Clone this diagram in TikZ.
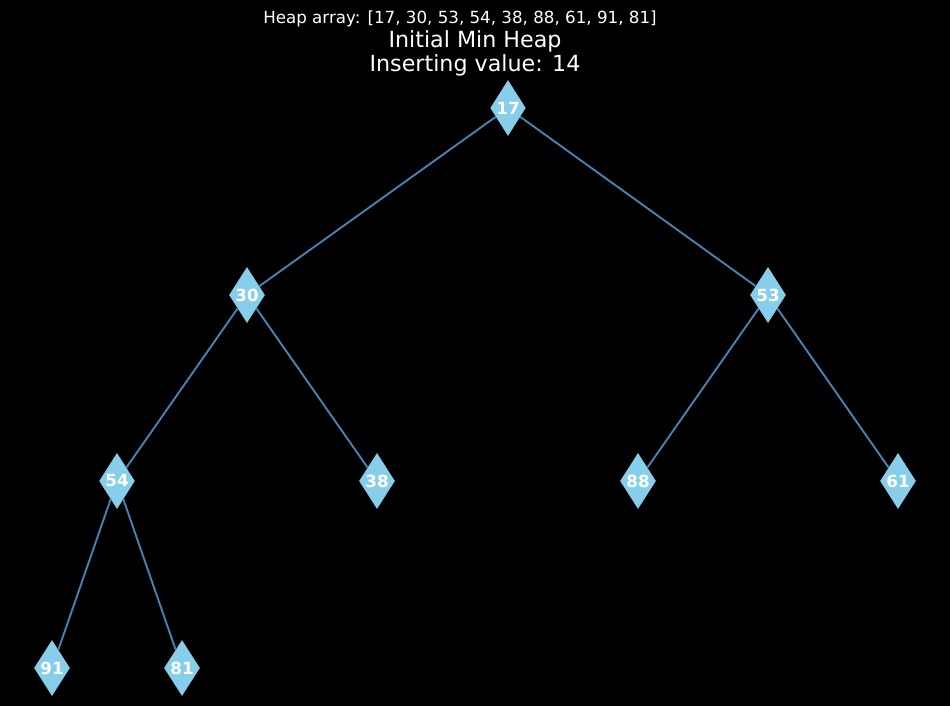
\documentclass[tikz,border=0pt]{standalone}
\usepackage{fontspec}
\setmainfont{DejaVu Sans}
\usetikzlibrary{shapes.geometric}
\definecolor{skyblue}{RGB}{135,206,235}
\definecolor{steelblue}{RGB}{70,130,180}
\begin{document}
\begin{tikzpicture}[x=1pt, y=-1pt,
	key/.style={draw=none, fill=skyblue, diamond, inner sep=0pt, minimum width=34pt, minimum height=56pt, text=white, font=\fontsize{16.7}{18}\selectfont\bfseries},
	link/.style={draw=steelblue, line width=1.9pt}]
	\fill[black] (0, 0) rectangle (950, 706);
	\useasboundingbox (0, 0) rectangle (950, 706);
	\node[anchor=base, text=white, font=\fontsize{16.7}{18}\selectfont] (arr) at (460, 24) {Heap array: [17, 30, 53, 54, 38, 88, 61, 91, 81]};
	\node[anchor=base, text=white, font=\fontsize{22.2}{24}\selectfont] (t1) at (475, 48) {Initial Min Heap};
	\node[anchor=base, text=white, font=\fontsize{22.2}{24}\selectfont] (t2) at (475, 72) {Inserting value: 14};
	
	\path (508, 108) node[key] (n1){17}
		(247, 295) node[key] (n2){30}
		(768, 295) node[key] (n3){53}
		(117, 481) node[key] (n4){54}
		(377, 481) node[key] (n5){38}
		(638, 481) node[key] (n6){88}
		(898, 481) node[key] (n7){61}
		(52, 668) node[key] (n8){91}
		(182, 668) node[key] (n9){81};
	
	\draw[link] (n1) -- (n2) -- (n4) -- (n8)
		(n1) -- (n3) -- (n6)
		(n2) -- (n5)
		(n3) -- (n7)
		(n4) -- (n9);
\end{tikzpicture}
\end{document}
